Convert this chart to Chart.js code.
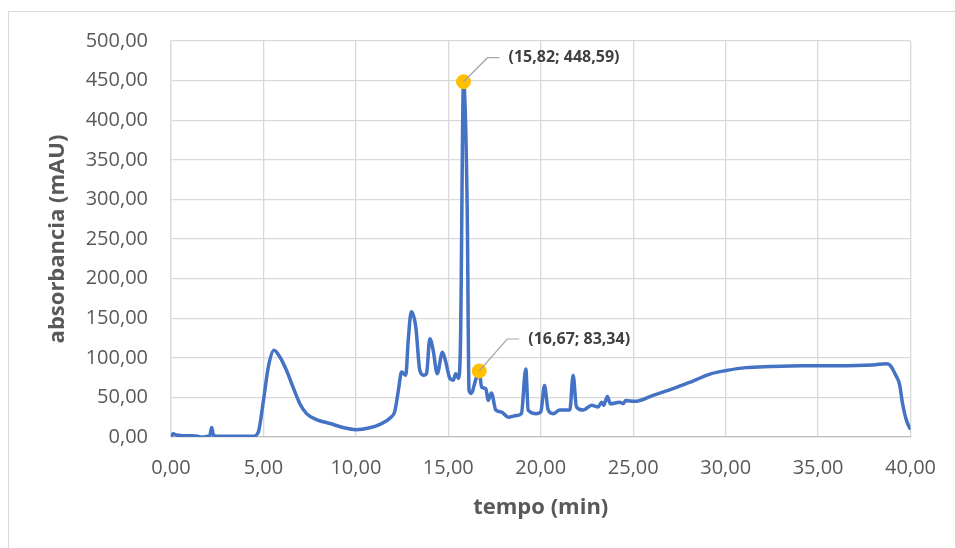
<!DOCTYPE html>
<html>
<head>
<meta charset="utf-8">
<script src="https://cdn.jsdelivr.net/npm/chart.js@4"></script>
<style>
  html, body { margin: 0; padding: 0; background: #fff; }
  #wrap { width: 955px; height: 548px; }
</style>
</head>
<body>
<div id="wrap"><canvas id="cromatograma" width="955" height="548"></canvas></div>
<script>
const tempo = [
  0, 0.12, 0.3, 0.5, 1.0, 1.45, 1.6, 1.75, 1.97, 2.1, 2.2, 2.3, 2.45, 3.5, 4.45, 4.72,
  5.0, 5.26, 5.57, 5.89, 6.25, 6.6, 6.97, 7.33, 7.87, 8.6, 9.3, 10.0, 10.7, 11.3, 11.9,
  12.1, 12.3, 12.47, 12.7, 12.83, 13.0, 13.24, 13.46, 13.68, 13.82, 14.0, 14.18, 14.4,
  14.68, 14.86, 15.08, 15.26, 15.4, 15.55, 15.66, 15.82, 16.02, 16.12, 16.25, 16.45,
  16.67, 16.8, 17.03, 17.15, 17.33, 17.57, 17.87, 18.24, 18.68, 18.95, 19.19, 19.32,
  19.77, 20.0, 20.2, 20.4, 20.67, 21.03, 21.57, 21.75, 21.93, 22.3, 22.75, 23.1, 23.3,
  23.4, 23.6, 23.77, 24.27, 24.45, 24.6, 25.08, 26.07, 27.15, 28.23, 29.23, 30.04,
  31.1, 32.4, 34.2, 36.0, 37.96, 38.7, 38.9, 39.2, 39.4, 39.57, 39.78, 40.0
];
const absorbancia = [
  0, 4, 2.5, 2, 1.5, 1, 0, 0, 1, 2, 12, 2, 1, 1, 1, 6,
  46, 88, 109.5, 101, 84, 63, 42, 29.5, 22, 17, 12, 9.3, 11.4, 16, 25,
  32, 59, 82, 78, 122, 158, 139, 84, 78, 80, 124, 109.5, 80,
  107, 95, 74, 71.6, 80, 74, 122, 448.59, 290, 59, 55, 70,
  83.34, 63, 61, 46, 55.6, 34, 31.6, 25, 27, 29.5, 86, 34,
  29.5, 31.6, 65, 34, 29.5, 34, 34, 78, 38, 34, 40, 38, 44,
  40, 51, 42, 44, 42, 46, 45, 52.6, 61, 70.7, 80, 84,
  87.6, 89, 90, 90, 91, 92.6, 90.5, 78, 67, 42, 21, 9.3
];

// pontos destacados
const picoTempo = [15.82, 16.67];
const picoAbs = [448.59, 83.34];
// deslocamento das etiquetas (px)
const etiquetaDx = [24, 28];
const etiquetaDy = [-24, -32];

const xTicks = [0, 5, 10, 15, 20, 25, 30, 35, 40];
const yTicks = [0, 50, 100, 150, 200, 250, 300, 350, 400, 450, 500];

const virgula = (v) => v.toFixed(2).replace('.', ',');

const linha = tempo.map((t, i) => ({ x: t, y: absorbancia[i] }));
const picos = picoTempo.map((t, i) => ({ x: t, y: picoAbs[i] }));

const fundo = {
  id: 'fundo',
  beforeDraw(chart) {
    const ctx = chart.ctx;
    ctx.save();
    ctx.fillStyle = '#ffffff';
    ctx.fillRect(0, 0, chart.width, chart.height);
    ctx.strokeStyle = '#D9D9D9';
    ctx.lineWidth = 1;
    ctx.strokeRect(8.5, 11.5, 1000, 600);
    ctx.restore();
  }
};

const etiquetas = {
  id: 'etiquetas',
  afterDatasetsDraw(chart) {
    const ctx = chart.ctx;
    const meta = chart.getDatasetMeta(1);
    ctx.save();
    meta.data.forEach((pt, i) => {
      const x1 = pt.x + etiquetaDx[i];
      const y1 = pt.y + etiquetaDy[i];
      ctx.strokeStyle = '#A6A6A6';
      ctx.lineWidth = 1.2;
      ctx.beginPath();
      ctx.moveTo(pt.x, pt.y);
      ctx.lineTo(x1, y1);
      ctx.lineTo(x1 + 12, y1);
      ctx.stroke();
      ctx.fillStyle = '#404040';
      ctx.font = 'bold 16px "Open Sans"';
      ctx.textBaseline = 'middle';
      ctx.textAlign = 'left';
      ctx.fillText('(' + virgula(picoTempo[i]) + '; ' + virgula(picoAbs[i]) + ')', x1 + 21, y1);
    });
    ctx.restore();
  }
};

const ctx = document.getElementById('cromatograma').getContext('2d');
new Chart(ctx, {
  type: 'scatter',
  data: {
    datasets: [
      {
        label: 'absorbancia',
        data: linha,
        showLine: true,
        borderColor: '#4472C4',
        borderWidth: 3.5,
        pointRadius: 0,
        cubicInterpolationMode: 'monotone',
        order: 2,
      },
      {
        label: 'picos',
        data: picos,
        showLine: false,
        pointRadius: 7,
        pointHoverRadius: 7,
        backgroundColor: '#FFC000',
        borderColor: '#FFC000',
        order: 1,
      },
    ],
  },
  options: {
    responsive: false,
    animation: false,
    events: [],
    layout: { padding: { top: 41, right: 44, left: 0, bottom: 0 } },
    plugins: { legend: { display: false }, tooltip: { enabled: false } },
    scales: {
      x: {
        type: 'linear',
        min: 0,
        max: 40,
        afterBuildTicks: (s) => { s.ticks = xTicks.map((v) => ({ value: v })); },
        afterFit: (s) => { s.height = 111; },
        grid: { color: '#D9D9D9', lineWidth: 1.3, drawTicks: false },
        border: { color: '#BFBFBF', width: 1.3 },
        ticks: {
          padding: 19,
          color: '#595959',
          font: { family: 'Open Sans', size: 20 },
          callback: (v) => virgula(v),
        },
        title: {
          display: true,
          text: 'tempo (min)',
          color: '#595959',
          font: { family: 'Open Sans', size: 22, weight: 'bold' },
          padding: { top: 0, bottom: 27 },
        },
      },
      y: {
        min: 0,
        max: 500,
        afterBuildTicks: (s) => { s.ticks = yTicks.map((v) => ({ value: v })); },
        afterFit: (s) => { s.width = 171; },
        grid: { color: '#D9D9D9', lineWidth: 1.3, drawTicks: false },
        border: { color: '#D9D9D9', width: 1.3 },
        ticks: {
          padding: 23,
          color: '#595959',
          font: { family: 'Open Sans', size: 20 },
          callback: (v) => virgula(v),
        },
        title: {
          display: true,
          text: 'absorbancia (mAU)',
          color: '#595959',
          font: { family: 'Open Sans', size: 22, weight: 'bold' },
          padding: { top: 45, bottom: 0 },
        },
      },
    },
  },
  plugins: [fundo, etiquetas],
});
</script>
</body>
</html>
